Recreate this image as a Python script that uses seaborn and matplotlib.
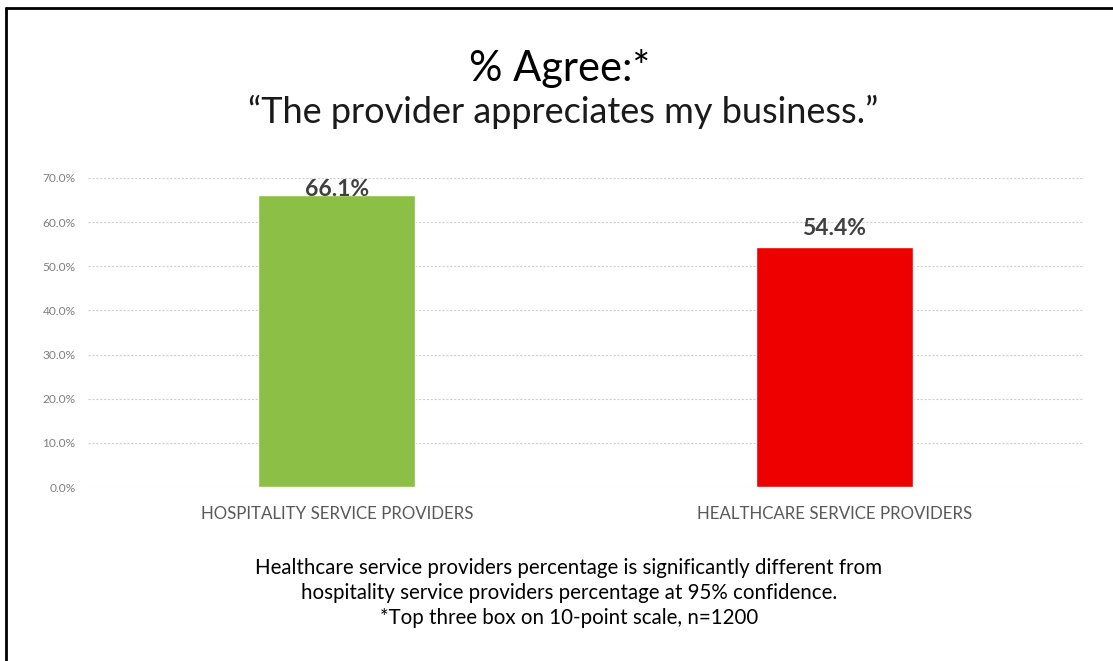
import matplotlib
matplotlib.use("Agg")
import matplotlib.pyplot as plt
import matplotlib.ticker as mticker
from matplotlib.lines import Line2D
import seaborn as sns
import pandas as pd

categories = ["HOSPITALITY SERVICE PROVIDERS", "HEALTHCARE SERVICE PROVIDERS"]
agree_pct = [66.1, 54.4]
bar_colors = ["#8BBF45", "#EE0000"]
y_ticks = [0, 10, 20, 30, 40, 50, 60, 70]

title = "% Agree:*"
subtitle = "\u201cThe provider appreciates my business.\u201d"
footnote = ("Healthcare service providers percentage is significantly different from\n"
            "hospitality service providers percentage at 95% confidence.\n"
            "*Top three box on 10-point scale, n=1200")

sns.set_theme(style="white")
plt.rcParams["font.family"] = ["Lato", "DejaVu Sans"]

df = pd.DataFrame({"category": categories, "pct": agree_pct})

fig = plt.figure(figsize=(11.13, 6.61), dpi=100)
ax = fig.add_axes([88 / 1113, (661 - 487) / 661, (1083 - 88) / 1113, (487 - 178) / 661])

sns.barplot(data=df, x="category", y="pct", hue="category",
            palette=dict(zip(categories, bar_colors)), width=0.315,
            legend=False, ax=ax, saturation=1, zorder=3)

y_max = 70
ax.set_xlim(-0.5, 1.5)
ax.set_ylim(0, y_max)
ax.set_yticks(y_ticks)
ax.yaxis.set_major_formatter(mticker.FuncFormatter(lambda v, _: f"{v:.1f}%"))
ax.grid(axis="y", color="#CFCFCF", linestyle=(0, (2, 1.5)), linewidth=0.8, zorder=0)
ax.set_axisbelow(True)
for s in ax.spines.values():
    s.set_visible(False)
ax.set_xlabel("")
ax.set_ylabel("")
ax.tick_params(axis="y", labelsize=8.6, labelcolor="#7F7F7F", length=0, pad=9)
ax.tick_params(axis="x", labelsize=12.2, labelcolor="#595959", length=0, pad=14)

# value labels sit above each bar but are kept inside the plotting area
for i, v in enumerate(agree_pct):
    ax.text(i, min(v + 2.7, y_max - 4.0), f"{v:.1f}%", ha="center", va="baseline",
            fontsize=16.5, fontweight="bold", color="#404040", zorder=4)

fig.text(0.503, 1 - 68 / 661, title, ha="center", va="center", fontsize=30, color="black")
fig.text(0.506, 1 - 112 / 661, subtitle, ha="center", va="center", fontsize=26, color="#1A1A1A")
fig.text(0.511, 1 - 593 / 661, footnote, ha="center", va="center", fontsize=14.8,
         color="black", linespacing=1.32)

# frame lines along the top and left edges
fig.add_artist(Line2D([6 / 1113, 1], [1 - 8 / 661, 1 - 8 / 661], color="black",
                      linewidth=2, transform=fig.transFigure))
fig.add_artist(Line2D([6 / 1113, 6 / 1113], [0, 1 - 8 / 661], color="black",
                      linewidth=2, transform=fig.transFigure))

fig.savefig("out.png", dpi=100)
